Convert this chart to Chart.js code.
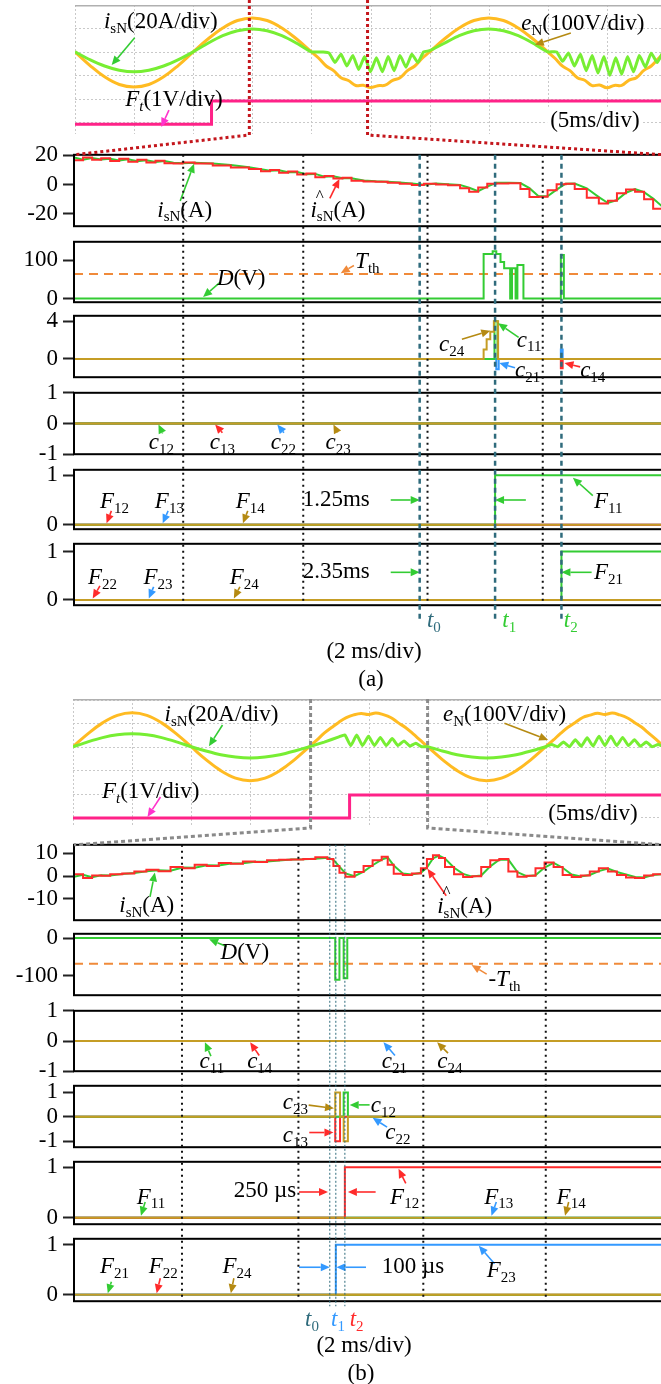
<!DOCTYPE html>
<html>
<head>
<meta charset="utf-8">
<script src="https://cdn.jsdelivr.net/npm/chart.js@4.4.1/dist/chart.umd.min.js"></script>
<style>
  body { margin: 0; background: #fff; width: 661px; height: 1384px; overflow: hidden; position: relative; }
  canvas { position: absolute; }
</style>
</head>
<body>
<script>
// ---------- oscilloscope traces, x in divisions (5 ms/div), y in divisions ----------
const scopeDivX = [0, 1, 2, 3, 4, 5, 6, 7, 8, 9, 10];
const scopeDivY = [-3, -2, -1, 0, 1, 2];

const scopeA_eN_d = [0, 0.25, 0.5, 0.75, 1, 1.25, 1.5, 1.75, 2, 2.25, 2.5, 2.75, 3, 3.25, 3.5, 3.75, 4,
  4.125, 4.25, 4.375, 4.5, 4.625, 4.75, 4.875, 5, 5.125, 5.25, 5.375, 5.5, 5.625, 5.75, 5.875,
  6, 6.25, 6.5, 6.75, 7, 7.25, 7.5, 7.75, 8,
  8.125, 8.25, 8.375, 8.5, 8.625, 8.75, 8.875, 9, 9.125, 9.25, 9.375, 9.5, 9.625, 9.75, 9.875, 10];
const scopeA_eN = [0, -0.57, -1.06, -1.39, -1.5, -1.39, -1.06, -0.57, 0, 0.55, 1.02, 1.34, 1.45, 1.34, 1.02, 0.55, 0,
  -0.27, -0.6, -0.8, -1.1, -1.22, -1.43, -1.42, -1.52, -1.44, -1.42, -1.21, -1.1, -0.8, -0.6, -0.27,
  0, 0.55, 1.02, 1.34, 1.45, 1.34, 1.02, 0.55, 0,
  -0.28, -0.61, -0.8, -1.1, -1.21, -1.44, -1.41, -1.53, -1.43, -1.43, -1.2, -1.1, -0.79, -0.6, -0.27, 0];

const scopeA_isN_d = [0, 0.25, 0.5, 0.75, 1, 1.25, 1.5, 1.75, 2, 2.25, 2.5, 2.75, 3, 3.25, 3.5, 3.75, 4, 4.2,
  4.3, 4.4, 4.5, 4.6, 4.7, 4.8, 4.9, 5.0, 5.1, 5.2, 5.3, 5.4, 5.5, 5.6, 5.7, 5.8, 5.9,
  6.0, 6.25, 6.5, 6.75, 7.0, 7.25, 7.5, 7.75, 8.0, 8.15,
  8.25, 8.35, 8.45, 8.55, 8.65, 8.75, 8.85, 8.95, 9.05, 9.15, 9.25, 9.35, 9.45, 9.55, 9.65, 9.75, 9.85, 9.95];
const scopeA_isN = [0, -0.33, -0.6, -0.78, -0.85, -0.78, -0.6, -0.33, 0, 0.37, 0.69, 0.9, 0.98, 0.9, 0.69, 0.37, 0, 0,
  -0.05, -0.45, -0.1, -0.6, -0.15, -0.75, -0.2, -0.85, -0.25, -0.85, -0.2, -0.8, -0.15, -0.65, -0.1, -0.45, 0,
  0.05, 0.37, 0.69, 0.9, 0.98, 0.9, 0.69, 0.37, 0, 0,
  -0.4, -0.05, -0.6, -0.1, -0.8, -0.15, -0.9, -0.2, -1.0, -0.25, -0.95, -0.2, -0.85, -0.15, -0.65, -0.05, -0.45, 0];

const scopeA_Ft_d = [0, 2.31, 2.31, 10];
const scopeA_Ft = [-3.08, -3.08, -2.09, -2.09];
const zoomA = [2.95, 4.95];

const scopeB_eN_d = scopeA_eN_d;
const scopeB_eN = [0, 0.55, 1.02, 1.34, 1.45, 1.34, 1.02, 0.55, 0, -0.55, -1.02, -1.34, -1.45, -1.34, -1.02, -0.55, 0,
  0.28, 0.58, 0.82, 1.05, 1.24, 1.36, 1.42, 1.38, 1.44, 1.37, 1.25, 1.03, 0.82, 0.56, 0.28,
  0, -0.55, -1.02, -1.34, -1.45, -1.34, -1.02, -0.55, 0,
  0.28, 0.57, 0.83, 1.04, 1.25, 1.35, 1.43, 1.38, 1.44, 1.36, 1.24, 1.04, 0.83, 0.56, 0.29, 0];

const scopeB_isN_d = [0, 0.25, 0.5, 0.75, 1, 1.25, 1.5, 1.75, 2, 2.25, 2.5, 2.75, 3, 3.25, 3.5, 3.75, 4, 4.25, 4.5,
  4.6, 4.7, 4.8, 4.9, 5.0, 5.1, 5.2, 5.3, 5.4, 5.5, 5.6, 5.7, 5.8, 5.9,
  6.0, 6.25, 6.5, 6.75, 7.0, 7.25, 7.5, 7.75, 8.0,
  8.1, 8.2, 8.3, 8.4, 8.5, 8.6, 8.7, 8.8, 8.9, 9.0, 9.1, 9.2, 9.3, 9.4, 9.5, 9.6, 9.7, 9.8, 9.9, 10];
const scopeB_isN = [0, 0.21, 0.39, 0.51, 0.55, 0.51, 0.39, 0.21, 0, -0.18, -0.34, -0.44, -0.48, -0.44, -0.34, -0.18, 0, 0.2, 0.42,
  0.5, 0.05, 0.5, 0.05, 0.45, 0.05, 0.4, 0.05, 0.35, 0.05, 0.25, 0.03, 0.15, 0,
  0, -0.18, -0.34, -0.44, -0.48, -0.44, -0.34, -0.18, 0,
  0.1, 0, 0.2, 0, 0.3, 0.02, 0.38, 0.03, 0.45, 0.05, 0.45, 0.05, 0.4, 0.05, 0.3, 0.02, 0.2, 0, 0.1, 0];

const scopeB_Ft_d = [0, 4.68, 4.68, 10];
const scopeB_Ft = [-3.05, -3.05, -2.06, -2.06];
const zoomB = [4.02, 6.0];

// ---------- zoomed panels, x in ms (2 ms/div) ----------
const T_MAX = 9.78;
const spanT = [0, T_MAX];
const zeroV = [0, 0];

// (a)
const timeA = [0, 0.15, 0.3, 0.45, 0.6, 0.75, 0.9, 1.05, 1.2, 1.35, 1.5, 1.65, 1.8, 2.0, 2.3, 2.6, 2.9, 3.1, 3.25, 3.4,
  3.55, 3.7, 3.85, 4.0, 4.15, 4.3, 4.45, 4.6, 4.8, 5.0, 5.2, 5.4, 5.6, 5.8, 6.0, 6.2, 6.4, 6.55, 6.7, 6.85,
  7.0, 7.2, 7.4, 7.55, 7.7, 7.85, 8.0, 8.15, 8.3, 8.5, 8.7, 8.85, 9.0, 9.15, 9.3, 9.45, 9.6, 9.78];
const isNhat_A = [18.5, 16.5, 18.3, 16.8, 17.8, 16, 17.5, 15.5, 16.8, 15, 16.2, 14.5, 14.3, 15, 14.2, 13, 11.5, 10.5, 9, 9.8,
  8, 8.8, 6.8, 7.5, 5, 5.8, 4, 4.5, 2.5, 2, 1.8, 1.2, 0.5, -0.3, 0.5, 0, -0.5, -2.5, -5, -2,
  0.5, 0.6, 0.8, -3, -8.5, -8.3, -4, 0.2, 0.5, -3, -9, -13, -11, -6, -3.5, -5, -10, -16.5];
const isN_A = [18.3, 16.8, 18, 17, 17.5, 16.3, 17.2, 15.8, 16.5, 15.3, 16, 14.8, 14.5, 14.8, 14.3, 13.2, 11.8, 10.3, 9.3, 9.6,
  8.3, 8.5, 7, 7.2, 5.3, 5.6, 4.2, 4.3, 2.7, 2.2, 1.9, 1.3, 0.6, -0.1, 0.6, 0.2, -0.3, -2.2, -4.6, -1.5,
  1.2, 1.1, 1, -2.5, -8, -8, -3.5, 0.5, 0.6, -2.6, -8.6, -12.6, -10.6, -5.6, -3.2, -5.2, -9.6, -16];
const dA_t = [0, 6.79, 6.79, 6.94, 6.94, 7.0, 7.0, 7.07, 7.07, 7.13, 7.13, 7.23, 7.23, 7.26, 7.26, 7.32, 7.32,
  7.35, 7.35, 7.45, 7.45, 8.07, 8.07, 8.12, 8.12, 9.78];
const dA_v = [0, 0, 116, 116, 123, 123, 116, 116, 95, 95, 79, 79, 0, 0, 79, 79, 0,
  0, 87, 87, 0, 0, 113, 113, 0, 0];
const thA = [64, 64];
const c11A_t = [0, 6.97, 6.97, 7.02, 7.02, 9.78], c11A_v = [0, 0, 4, 4, 0, 0];
const c24A_t = [0, 6.79, 6.79, 6.84, 6.84, 6.9, 6.9, 6.96, 6.96, 7.03, 7.03, 9.78];
const c24A_v = [0, 0, 1, 1, 2.1, 2.1, 2.9, 2.9, 4, 4, 0, 0];
const c21A_t = [0, 7.0, 7.0, 7.04, 7.04, 8.07, 8.07, 8.1, 8.1, 9.78], c21A_v = [0, 0, -1.1, -1.1, 0, 0, 1, 1, 0, 0];
const c14A_t = [0, 8.07, 8.07, 8.1, 8.1, 9.78], c14A_v = [0, 0, -1, -1, 0, 0];
const F11A_t = [0, 6.98, 6.98, 9.78], F11A_v = [0, 0, 1, 1];
const F21A_t = [0, 8.08, 8.08, 9.78], F21A_v = [0, 0, 1, 1];
const gridA = [1.81, 3.8, 5.86, 7.77];
const tMarkA = [5.73, 6.98, 8.08];
const tLabelA = [5.85, 7.1, 8.12];

// (b)
const timeB = [0, 0.15, 0.3, 0.45, 0.6, 0.8, 1.0, 1.2, 1.4, 1.6, 1.8, 2.0, 2.2, 2.4, 2.6, 2.8, 3.0, 3.2, 3.4, 3.6,
  3.8, 4.0, 4.2, 4.3, 4.4, 4.5, 4.65, 4.8, 4.95, 5.1, 5.2, 5.3, 5.45, 5.6, 5.75, 5.85, 5.95, 6.05, 6.15, 6.3,
  6.45, 6.6, 6.75, 6.9, 7.05, 7.2, 7.35, 7.5, 7.65, 7.8, 7.95, 8.1, 8.25, 8.4, 8.55, 8.7, 8.85, 9.0, 9.15, 9.3,
  9.45, 9.6, 9.78];
const isNhat_B = [-0.5, 0.8, -0.8, 0.3, 0.2, 0.8, 1.2, 2, 2.8, 2.2, 4, 3.5, 5, 4.5, 5.8, 5.5, 6.5, 6.2, 7, 7.2,
  7.3, 7.6, 8.3, 7.5, 4.5, 1.5, -0.3, 1.8, 4.5, 7, 8.5, 5, 1, 0.5, 1.2, 3.5, 7.5, 9.2, 8, 4,
  0.8, -0.4, 0, 4, 7, 7.5, 2, -0.3, 0.2, 3.5, 6, 4, 0.5, -0.4, 0.3, 2, 3.5, 2, 0.5, -0.6,
  -0.8, 0.3, 0.8];
const isN_B = [-0.3, 0.6, -0.5, 0.4, 0.3, 0.9, 1.4, 2.1, 2.6, 2.4, 3.8, 3.7, 4.8, 4.7, 5.6, 5.7, 6.3, 6.4, 6.9, 7.3,
  7.4, 7.7, 8.1, 7.2, 4.2, 1.2, 0, 2, 4.8, 7.3, 8.2, 4.7, 1.2, 0.7, 1.5, 3.8, 7.8, 9, 7.7, 3.7,
  1, -0.2, 0.3, 4.3, 7.2, 7.3, 1.8, 0, 0.4, 3.8, 5.8, 3.7, 0.7, -0.2, 0.5, 2.2, 3.3, 1.8, 0.7, -0.4,
  -0.6, 0.5, 0.9];
const dB_t = [0, 4.33, 4.33, 4.4, 4.4, 4.47, 4.47, 4.53, 4.53, 9.78];
const dB_v = [0, 0, -110, -110, 0, 0, -106, -106, 0, 0];
const thB = [-68, -68];
const c23B_t = [0, 4.33, 4.33, 4.41, 4.41, 4.47, 4.47, 4.54, 4.54, 9.78], c23B_v = [0, 0, 1, 1, 0, 0, -1, -1, 0, 0];
const c13B_t = [0, 4.33, 4.33, 4.41, 4.41, 9.78], c13B_v = [0, 0, -1, -1, 0, 0];
const c12B_t = [0, 4.47, 4.47, 4.54, 4.54, 9.78], c12B_v = [0, 0, 1, 1, 0, 0];
const F12B_t = [0, 4.49, 4.49, 9.78], F12B_v = [0, 0, 1, 1];
const F23B_t = [0, 4.34, 4.34, 9.78], F23B_v = [0, 0, 1, 1];
const gridB = [1.79, 3.72, 5.79, 7.82];
const tMarkB = [4.24, 4.34, 4.49];
const tLabelB = [3.83, 4.26, 4.57];

// y tick labels
const ticksA1 = [20, 0, -20], ticksA2 = [100, 0], ticksA3 = [4, 0], ticksA4 = [1, 0, -1], ticksF = [1, 0];
const ticksB1 = [10, 0, -10], ticksB2 = [0, -100], ticksB3 = [1, 0, -1];

// ---------- styling ----------
const GREEN = '#33cc33', RED = '#ff2b2b', BLUE = '#3399ff', GOLD = '#c59d25', GOLDA = '#b58a12';
const ORANGE = '#f08a3a', TEAL = '#2f6b7c', MAGENTA = '#ff33cc';
const SY = '#ffbb22', SG = '#77ee33', SP = '#ff2288';
const PAD = 16, LBL = 23, FONT = '"Liberation Serif"';

function drawParts(ctx, x, y, parts, color, size, bg) {
  ctx.save();
  ctx.textBaseline = 'middle';
  ctx.textAlign = 'left';
  const fontOf = f => (f.includes('i') ? 'italic ' : '') + (f.includes('s') ? Math.round(size * 0.64) : size) + 'px ' + FONT;
  if (bg) {
    let w = 0;
    parts.forEach(([t, f = '']) => { ctx.font = fontOf(f); w += ctx.measureText(t).width; });
    ctx.fillStyle = '#fff';
    ctx.fillRect(x - 3, y - size * 0.62, w + 6, size * 1.24);
  }
  ctx.fillStyle = color;
  let cx = x;
  parts.forEach(([t, f = '']) => {
    ctx.font = fontOf(f);
    const w = ctx.measureText(t).width;
    ctx.fillText(t, cx, y + (f.includes('s') ? size * 0.3 : 0));
    if (f.includes('h')) {
      ctx.font = Math.round(size * 0.72) + 'px ' + FONT;
      ctx.fillText('^', cx + w - 1, y - size * 0.62);
    }
    cx += w;
  });
  ctx.restore();
}

function drawArrow(ctx, x1, y1, x2, y2, color) {
  const ang = Math.atan2(y2 - y1, x2 - x1), L = 9, W = 4;
  const bx = x2 - L * Math.cos(ang), by = y2 - L * Math.sin(ang);
  ctx.save();
  ctx.strokeStyle = color; ctx.fillStyle = color; ctx.lineWidth = 1.6;
  ctx.beginPath(); ctx.moveTo(x1, y1); ctx.lineTo(bx, by); ctx.stroke();
  ctx.beginPath();
  ctx.moveTo(x2, y2);
  ctx.lineTo(bx - W * Math.sin(ang), by + W * Math.cos(ang));
  ctx.lineTo(bx + W * Math.sin(ang), by - W * Math.cos(ang));
  ctx.closePath(); ctx.fill();
  ctx.restore();
}

function notesPlugin(notes) {
  return {
    id: 'notes',
    afterDraw(chart) {
      const ctx = chart.ctx;
      const px = v => chart.scales.x.getPixelForValue(v), py = v => chart.scales.y.getPixelForValue(v);
      notes.forEach(n => {
        (n.arrows || []).forEach(a => drawArrow(ctx, px(a[0]), py(a[1]), px(a[2]), py(a[3]), n.ac));
        if (n.p) drawParts(ctx, px(n.x), py(n.y), n.p, n.c || '#000', LBL, n.bg);
      });
    }
  };
}

const framePlugin = {
  id: 'frame',
  afterDatasetsDraw(chart) {
    const { left, top, right, bottom } = chart.chartArea, ctx = chart.ctx;
    ctx.save();
    ctx.strokeStyle = '#000'; ctx.lineWidth = 2;
    ctx.strokeRect(left, top, right - left, bottom - top);
    ctx.restore();
  }
};

const scopeGridPlugin = {
  id: 'scopegrid',
  beforeDatasetsDraw(chart) {
    const ctx = chart.ctx, sx = chart.scales.x, sy = chart.scales.y, a = chart.chartArea;
    ctx.save();
    ctx.strokeStyle = '#c9c9c9'; ctx.lineWidth = 1; ctx.setLineDash([2, 2]);
    scopeDivX.forEach(d => {
      const x = Math.round(sx.getPixelForValue(d)) + 0.5;
      ctx.beginPath(); ctx.moveTo(x, a.top); ctx.lineTo(x, a.bottom); ctx.stroke();
    });
    scopeDivY.forEach(v => {
      const y = Math.round(sy.getPixelForValue(v)) + 0.5;
      ctx.beginPath(); ctx.moveTo(a.left, y); ctx.lineTo(a.right, y); ctx.stroke();
    });
    ctx.setLineDash([]); ctx.strokeStyle = '#b0b0b0'; ctx.lineWidth = 1.5;
    ctx.beginPath(); ctx.moveTo(a.left, a.top + 0.75); ctx.lineTo(a.right, a.top + 0.75); ctx.stroke();
    ctx.restore();
  }
};

function addCanvas(left, top, w, h, z) {
  const c = document.createElement('canvas');
  c.width = w; c.height = h;
  c.style.left = left + 'px'; c.style.top = top + 'px';
  c.style.width = w + 'px'; c.style.height = h + 'px';
  c.style.zIndex = z;
  document.body.appendChild(c);
  return c;
}

function series(ts, vs, color, extra) {
  return Object.assign({
    data: ts.map((t, i) => ({ x: t, y: vs[i] })),
    borderColor: color, borderWidth: 2, pointRadius: 0, tension: 0, fill: false
  }, extra || {});
}

function panel(top, bottom, yMin, yMax, yTicks, datasets, notes) {
  const c = addCanvas(0, top - PAD, 664, bottom - top + 2 * PAD, 2);
  return new Chart(c, {
    type: 'line',
    data: { datasets },
    options: {
      responsive: false, animation: false, devicePixelRatio: 1,
      layout: { padding: { top: PAD, bottom: PAD, left: 0, right: 0 } },
      plugins: { legend: { display: false }, tooltip: { enabled: false } },
      scales: {
        x: { type: 'linear', min: 0, max: T_MAX, display: false },
        y: {
          type: 'linear', min: yMin, max: yMax,
          afterFit: a => { a.width = 74; },
          afterBuildTicks: a => { a.ticks = yTicks.map(v => ({ value: v })); },
          grid: { drawOnChartArea: false, drawTicks: true, tickLength: 11, tickColor: '#222', tickWidth: 2 },
          border: { display: false },
          ticks: { color: '#000', padding: 5, font: { family: 'Liberation Serif', size: 23 }, callback: v => String(v) }
        }
      }
    },
    plugins: [framePlugin, notesPlugin(notes)]
  });
}

function scope(left, top, w, h, yMin, yMax, datasets, notes) {
  const c = addCanvas(left, top, w, h, 2);
  return new Chart(c, {
    type: 'line',
    data: { datasets },
    options: {
      responsive: false, animation: false, devicePixelRatio: 1,
      layout: { padding: 0 },
      plugins: { legend: { display: false }, tooltip: { enabled: false } },
      scales: {
        x: { type: 'linear', min: 0, max: 10, display: false },
        y: { type: 'linear', min: yMin, max: yMax, display: false }
      }
    },
    plugins: [scopeGridPlugin, notesPlugin(notes)]
  });
}

const lbl = {
  isN: [['i', 'i'], ['sN', 's'], ['(A)']],
  isNhat: [['i', 'ih'], ['sN', 's'], ['(A)']],
  D: [['D', 'i'], ['(V)']],
  c: n => [['c', 'i'], [n, 's']],
  F: n => [['F', 'i'], [n, 's']]
};

// ---------- (a) ----------
const scA = scope(75, 5, 591, 129, -3.5, 2.0, [
  series(scopeA_Ft_d, scopeA_Ft, SP, { borderWidth: 3, order: 2 }),
  series(scopeA_isN_d, scopeA_isN, SG, { borderWidth: 3, tension: 0.15, order: 0 }),
  series(scopeA_eN_d, scopeA_eN, SY, { borderWidth: 3, tension: 0.4, order: 1 })
], [
  { x: 0.49, y: 1.28, p: [['i', 'i'], ['sN', 's'], ['(20A/div)']], arrows: [[1.01, 0.6, 0.62, -0.56]], ac: GREEN },
  { x: 7.55, y: 1.2, p: [['e', 'i'], ['N', 's'], ['(100V/div)']], arrows: [[8.39, 0.81, 7.78, 0.3]], ac: GOLDA },
  { x: 0.85, y: -2.05, p: [['F', 'i'], ['t', 'is'], ['(1V/div)']], arrows: [[1.59, -2.48, 1.46, -3.2]], ac: MAGENTA },
  { x: 8.04, y: -2.95, p: [['(5ms/div)']], bg: true }
]);

const pa1 = panel(152, 229, -28.4, 20.2, ticksA1, [
  series(timeA, isNhat_A, RED, { stepped: 'after', order: 0 }),
  series(timeA, isN_A, GREEN, { order: 1 })
], [
  { x: 1.38, y: -17.7, p: lbl.isN, arrows: [[1.76, -11.2, 1.99, 14.1]], ac: GREEN },
  { x: 3.92, y: -17.7, p: lbl.isNhat, arrows: [[4.24, -9.5, 4.4, 3.8]], ac: RED }
]);

const pa2 = panel(239, 305, -9.5, 147.6, ticksA2, [
  series(dA_t, dA_v, GREEN, { order: 0 }),
  series(spanT, thA, ORANGE, { borderDash: [9, 6], order: 1 })
], [
  { x: 4.66, y: 95, p: [['T', 'i'], ['th', 's']], arrows: [[4.64, 86, 4.42, 66]], ac: ORANGE },
  { x: 2.37, y: 52, p: lbl.D, arrows: [[2.42, 42, 2.14, 4]], ac: GREEN }
]);

const pa3 = panel(313, 380, -1.95, 4.59, ticksA3, [
  series(c24A_t, c24A_v, GOLD, { order: 0 }),
  series(c11A_t, c11A_v, GREEN, { order: 1 }),
  series(c21A_t, c21A_v, BLUE, { order: 2 }),
  series(c14A_t, c14A_v, RED, { order: 3 })
], [
  { x: 6.05, y: 1.46, p: lbl.c('24'), arrows: [[6.43, 2.1, 6.9, 3.0]], ac: GOLDA },
  { x: 7.34, y: 1.95, p: lbl.c('11'), arrows: [[7.37, 2.3, 7.03, 3.8]], ac: GREEN },
  { x: 7.31, y: -1.27, p: lbl.c('21'), arrows: [[7.31, -0.95, 7.05, -0.45]], ac: BLUE },
  { x: 8.39, y: -1.27, p: lbl.c('14'), arrows: [[8.39, -0.85, 8.13, -0.45]], ac: RED }
]);

const pa4 = panel(390, 457, -1.0, 1.0, ticksA4, [
  series(spanT, zeroV, GOLD, { order: 0 }),
  series(spanT, zeroV, GREEN, { order: 1 }),
  series(spanT, zeroV, RED, { order: 2 }),
  series(spanT, zeroV, BLUE, { order: 3 })
], [
  { x: 1.24, y: -0.64, p: lbl.c('12'), arrows: [[1.47, -0.32, 1.4, -0.03]], ac: GREEN },
  { x: 2.25, y: -0.64, p: lbl.c('13'), arrows: [[2.46, -0.3, 2.34, -0.03]], ac: RED },
  { x: 3.26, y: -0.64, p: lbl.c('22'), arrows: [[3.48, -0.3, 3.37, -0.03]], ac: BLUE },
  { x: 4.17, y: -0.64, p: lbl.c('23'), arrows: [[4.37, -0.3, 4.3, -0.03]], ac: GOLDA }
]);

const pa5 = panel(466.5, 532, -0.09, 1.11, ticksF, [
  series(spanT, zeroV, GOLD, { order: 0 }),
  series(F11A_t, F11A_v, GREEN, { order: 1 }),
  series(spanT, zeroV, RED, { order: 2 }),
  series(spanT, zeroV, BLUE, { order: 3 })
], [
  { x: 0.43, y: 0.46, p: lbl.F('12'), arrows: [[0.62, 0.28, 0.54, 0.03]], ac: RED },
  { x: 1.34, y: 0.46, p: lbl.F('13'), arrows: [[1.56, 0.28, 1.47, 0.03]], ac: BLUE },
  { x: 2.68, y: 0.46, p: lbl.F('14'), arrows: [[2.88, 0.28, 2.8, 0.03]], ac: GOLDA },
  { x: 3.79, y: 0.5, p: [['1.25ms']], arrows: [[5.25, 0.5, 5.73, 0.5], [7.49, 0.5, 6.98, 0.5]], ac: GREEN },
  { x: 8.62, y: 0.46, p: lbl.F('11'), arrows: [[8.6, 0.59, 8.27, 0.95]], ac: GREEN }
]);

const pa6 = panel(540.5, 608, -0.11, 1.16, ticksF, [
  series(spanT, zeroV, GOLD, { order: 0 }),
  series(F21A_t, F21A_v, GREEN, { order: 1 }),
  series(spanT, zeroV, RED, { order: 2 }),
  series(spanT, zeroV, BLUE, { order: 3 })
], [
  { x: 0.23, y: 0.45, p: lbl.F('22'), arrows: [[0.43, 0.29, 0.31, 0.03]], ac: RED },
  { x: 1.15, y: 0.45, p: lbl.F('23'), arrows: [[1.32, 0.27, 1.24, 0.03]], ac: BLUE },
  { x: 2.58, y: 0.45, p: lbl.F('24'), arrows: [[2.75, 0.27, 2.65, 0.03]], ac: GOLDA },
  { x: 3.79, y: 0.57, p: [['2.35ms']], arrows: [[5.25, 0.57, 5.73, 0.57]], ac: GREEN },
  { x: 8.62, y: 0.55, p: lbl.F('21'), arrows: [[8.58, 0.57, 8.08, 0.57]], ac: GREEN }
]);

// ---------- (b) ----------
const scB = scope(73, 699, 591, 128, -3.43, 2.04, [
  series(scopeB_Ft_d, scopeB_Ft, SP, { borderWidth: 3, order: 2 }),
  series(scopeB_isN_d, scopeB_isN, SG, { borderWidth: 3, tension: 0.15, order: 0 }),
  series(scopeB_eN_d, scopeB_eN, SY, { borderWidth: 3, tension: 0.4, order: 1 })
], [
  { x: 1.55, y: 1.35, p: [['i', 'i'], ['sN', 's'], ['(20A/div)']], arrows: [[2.53, 0.93, 2.3, 0.02]], ac: GREEN },
  { x: 6.26, y: 1.35, p: [['e', 'i'], ['N', 's'], ['(100V/div)']], arrows: [[7.3, 1.0, 8.04, 0.29]], ac: GOLDA },
  { x: 0.49, y: -1.94, p: [['F', 'i'], ['t', 'is'], ['(1V/div)']], arrows: [[1.48, -2.15, 1.26, -3.0]], ac: MAGENTA },
  { x: 8.04, y: -2.88, p: [['(5ms/div)']], bg: true }
]);

const pb1 = panel(842, 923, -19.4, 13.8, ticksB1, [
  series(timeB, isNhat_B, RED, { stepped: 'after', order: 0 }),
  series(timeB, isN_B, GREEN, { order: 1 })
], [
  { x: 0.75, y: -13.2, p: lbl.isN, arrows: [[1.26, -9.1, 1.34, 1.6]], ac: GREEN },
  { x: 6.02, y: -13.6, p: lbl.isNhat, arrows: [[6.17, -8.6, 5.86, 3.2]], ac: RED }
]);

const pb2 = panel(931, 998, -150.8, 11.4, ticksB2, [
  series(dB_t, dB_v, GREEN, { order: 0 }),
  series(spanT, thB, ORANGE, { borderDash: [9, 6], order: 1 })
], [
  { x: 2.43, y: -39, p: lbl.D, arrows: [[2.53, -22, 2.24, -3]], ac: GREEN },
  { x: 6.87, y: -110, p: [['-'], ['T', 'i'], ['th', 's']], arrows: [[6.84, -95, 6.59, -71]], ac: ORANGE }
]);

const pb3 = panel(1008, 1074, -1, 1, ticksB3, [
  series(spanT, zeroV, GOLD, { order: 0 }),
  series(spanT, zeroV, GREEN, { order: 1 }),
  series(spanT, zeroV, RED, { order: 2 }),
  series(spanT, zeroV, BLUE, { order: 3 })
], [
  { x: 2.08, y: -0.7, p: lbl.c('11'), arrows: [[2.27, -0.5, 2.17, -0.04]], ac: GREEN },
  { x: 2.87, y: -0.7, p: lbl.c('14'), arrows: [[3.07, -0.48, 2.92, -0.04]], ac: RED },
  { x: 5.1, y: -0.7, p: lbl.c('21'), arrows: [[5.32, -0.48, 5.13, -0.04]], ac: BLUE },
  { x: 6.02, y: -0.7, p: lbl.c('24'), arrows: [[6.2, -0.4, 6.02, -0.04]], ac: GOLDA }
]);

const pb4 = panel(1083, 1150, -1.24, 1.27, ticksB3, [
  series(c23B_t, c23B_v, GOLD, { order: 0 }),
  series(c12B_t, c12B_v, GREEN, { order: 1 }),
  series(c13B_t, c13B_v, RED, { order: 2 }),
  series(spanT, zeroV, BLUE, { order: 3 })
], [
  { x: 3.46, y: 0.56, p: lbl.c('23'), arrows: [[3.89, 0.48, 4.31, 0.35]], ac: GOLDA },
  { x: 3.46, y: -0.79, p: lbl.c('13'), arrows: [[3.9, -0.64, 4.3, -0.64]], ac: RED },
  { x: 4.92, y: 0.45, p: lbl.c('12'), arrows: [[4.9, 0.49, 4.57, 0.49]], ac: GREEN },
  { x: 5.16, y: -0.67, p: lbl.c('22'), arrows: [[5.19, -0.42, 4.95, -0.04]], ac: BLUE }
]);

const pb5 = panel(1159, 1227, -0.13, 1.11, ticksF, [
  series(spanT, zeroV, GOLD, { order: 0 }),
  series(F12B_t, F12B_v, RED, { order: 1 }),
  series(spanT, zeroV, GREEN, { order: 2 }),
  series(spanT, zeroV, BLUE, { order: 3 })
], [
  { x: 1.04, y: 0.4, p: lbl.F('11'), arrows: [[1.18, 0.31, 1.11, 0.04]], ac: GREEN },
  { x: 2.65, y: 0.53, p: [['250 µs']], arrows: [[3.73, 0.51, 4.21, 0.51], [5.0, 0.51, 4.54, 0.51]], ac: RED },
  { x: 5.24, y: 0.4, p: lbl.F('12'), arrows: [[5.5, 0.68, 5.38, 0.97]], ac: RED },
  { x: 6.8, y: 0.4, p: lbl.F('13'), arrows: [[7.0, 0.31, 6.92, 0.04]], ac: BLUE },
  { x: 8.0, y: 0.4, p: lbl.F('14'), arrows: [[8.2, 0.31, 8.14, 0.04]], ac: GOLDA }
]);

const pb6 = panel(1236, 1304, -0.13, 1.12, ticksF, [
  series(spanT, zeroV, GOLD, { order: 0 }),
  series(F23B_t, F23B_v, BLUE, { order: 1 }),
  series(spanT, zeroV, GREEN, { order: 2 }),
  series(spanT, zeroV, RED, { order: 3 })
], [
  { x: 0.43, y: 0.55, p: lbl.F('21'), arrows: [[0.62, 0.26, 0.56, 0.03]], ac: GREEN },
  { x: 1.24, y: 0.55, p: lbl.F('22'), arrows: [[1.43, 0.33, 1.37, 0.03]], ac: RED },
  { x: 2.46, y: 0.55, p: lbl.F('24'), arrows: [[2.65, 0.33, 2.6, 0.03]], ac: GOLDA },
  { x: 5.1, y: 0.55, p: [['100 µs']], arrows: [[3.73, 0.55, 4.24, 0.55], [4.84, 0.55, 4.35, 0.55]], ac: BLUE },
  { x: 6.84, y: 0.48, p: lbl.F('23'), arrows: [[6.97, 0.62, 6.71, 0.98]], ac: BLUE }
]);

// ---------- lines that cross several panels, zoom connectors, captions ----------
const ov = addCanvas(0, 0, 661, 1384, 3);
const octx = ov.getContext('2d');

function centered(ctx, text, cx, cy) {
  ctx.save();
  ctx.font = LBL + 'px ' + FONT;
  ctx.fillStyle = '#000'; ctx.textAlign = 'center'; ctx.textBaseline = 'middle';
  ctx.fillText(text, cx, cy);
  ctx.restore();
}

function crossLines(ctx, o) {
  const p0 = o.panels[0], pN = o.panels[o.panels.length - 1];
  const X = t => p0.scales.x.getPixelForValue(t);
  const top = p0.canvas.offsetTop + p0.chartArea.top;
  const bot = pN.canvas.offsetTop + pN.chartArea.bottom;
  ctx.save();
  ctx.strokeStyle = '#111'; ctx.lineWidth = 2; ctx.setLineDash([2, 4]);
  o.grid.forEach(t => { ctx.beginPath(); ctx.moveTo(X(t), top); ctx.lineTo(X(t), bot); ctx.stroke(); });
  ctx.strokeStyle = TEAL; ctx.lineWidth = o.tWidth; ctx.setLineDash(o.tDash);
  o.tMarks.forEach(t => { ctx.beginPath(); ctx.moveTo(X(t), top); ctx.lineTo(X(t), bot + o.tExt); ctx.stroke(); });
  const s = o.scope;
  const sx = d => s.canvas.offsetLeft + s.scales.x.getPixelForValue(d);
  const sBot = s.canvas.offsetTop + s.chartArea.bottom + 1;
  ctx.strokeStyle = o.connColor; ctx.lineWidth = 3; ctx.setLineDash(o.connDash);
  ctx.beginPath(); ctx.moveTo(sx(o.zoom[0]), o.connTop); ctx.lineTo(sx(o.zoom[0]), sBot); ctx.lineTo(p0.chartArea.left, top); ctx.stroke();
  ctx.beginPath(); ctx.moveTo(sx(o.zoom[1]), o.connTop); ctx.lineTo(sx(o.zoom[1]), sBot); ctx.lineTo(p0.chartArea.right, top); ctx.stroke();
  ctx.restore();
  o.tMarks.forEach((t, i) => drawParts(ctx, X(o.tLabels[i]), o.tLabY, [['t', 'i'], [String(i), 's']], o.tColors[i], LBL));
  centered(ctx, '(2 ms/div)', o.capX, o.capY);
  centered(ctx, o.caption, o.capX - 3, o.capY + 28);
}

crossLines(octx, {
  panels: [pa1, pa2, pa3, pa4, pa5, pa6], scope: scA, zoom: zoomA, grid: gridA,
  tMarks: tMarkA, tLabels: tLabelA, tColors: [TEAL, GREEN, GREEN], tWidth: 2.5, tDash: [5, 4], tExt: 14,
  connColor: '#c4161c', connDash: [3, 3], connTop: 0, tLabY: 621, capX: 374, capY: 652, caption: '(a)'
});
crossLines(octx, {
  panels: [pb1, pb2, pb3, pb4, pb5, pb6], scope: scB, zoom: zoomB, grid: gridB,
  tMarks: tMarkB, tLabels: tLabelB, tColors: [TEAL, BLUE, RED], tWidth: 1, tDash: [2, 2], tExt: 5,
  connColor: '#8a8a8a', connDash: [4, 3], connTop: 699, tLabY: 1320, capX: 364, capY: 1346, caption: '(b)'
});
</script>
</body>
</html>
